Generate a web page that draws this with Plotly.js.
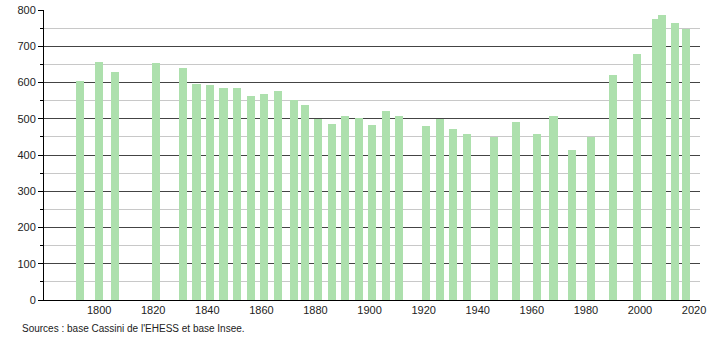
<!DOCTYPE html>
<html>
<head>
<meta charset="utf-8">
<script src="https://cdn.plot.ly/plotly-3.0.1.min.js"></script>
<style>
html,body{margin:0;padding:0;background:#fff;}
#chart{width:710px;height:340px;}
</style>
</head>
<body>
<div id="chart"></div>
<script>
const years = [1793,1800,1806,1821,1831,1836,1841,1846,1851,1856,1861,1866,1872,1876,1881,1886,1891,1896,1901,1906,1911,1921,1926,1931,1936,1946,1954,1962,1968,1975,1982,1990,1999,2006,2008,2013,2017];
const population = [605,657,630,654,640,597,593,585,586,563,568,577,552,538,498,486,508,502,483,521,508,480,499,472,458,450,491,458,508,414,450,621,679,775,787,763,748];
const yTicks = [0,100,200,300,400,500,600,700,800];
const xTicks = [1800,1820,1840,1860,1880,1900,1920,1940,1960,1980,2000,2020];
const sourceText = "Sources : base Cassini de l'EHESS et base Insee.";

const trace = {
  type: 'bar',
  x: years,
  y: population,
  width: years.map(() => 3),
  marker: {color: '#ade0ad', line: {width: 0}},
  hoverinfo: 'x+y'
};

const layout = {
  width: 710, height: 340,
  margin: {l: 44, r: 10, t: 10, b: 40},
  paper_bgcolor: '#fff', plot_bgcolor: '#fff',
  font: {family: 'Liberation Sans, Arial, sans-serif', size: 11, color: '#222'},
  showlegend: false,
  bargap: 0,
  xaxis: {
    range: [1779.6, 2022.2],
    tickvals: xTicks,
    ticktext: xTicks.map(String),
    showgrid: false, zeroline: false,
    showline: true, linecolor: '#000', linewidth: 1,
    ticks: '', tickfont: {size: 11, color: '#222'},
    fixedrange: true
  },
  yaxis: {
    range: [0, 800],
    tickvals: yTicks,
    ticktext: yTicks.map(String),
    showgrid: true, gridcolor: '#444', gridwidth: 1,
    zeroline: false,
    showline: true, linecolor: '#000', linewidth: 1,
    ticks: 'outside', ticklen: 5, tickcolor: '#000',
    tickfont: {size: 11, color: '#222'},
    minor: {dtick: 50, tick0: 0, ticks: 'outside', ticklen: 3, tickcolor: '#000', showgrid: true, gridcolor: '#c8c8c8', gridwidth: 1},
    fixedrange: true
  },
  annotations: [{
    text: sourceText, xref: 'paper', yref: 'paper',
    x: -24/656, y: 0, yshift: -21, xanchor: 'left', yanchor: 'top',
    showarrow: false, font: {size: 10, color: '#222'}
  }]
};

Plotly.newPlot('chart', [trace], layout, {displayModeBar: false, staticPlot: true});
</script>
</body>
</html>
